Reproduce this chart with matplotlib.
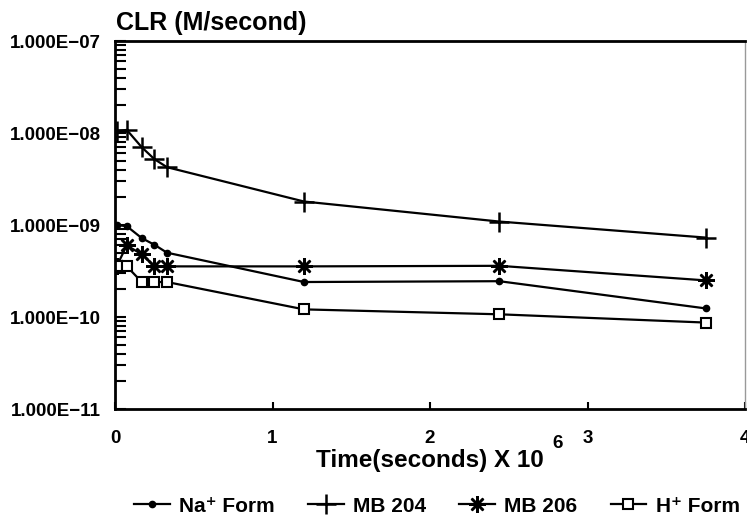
import matplotlib
matplotlib.use("Agg")
import matplotlib.pyplot as plt
from matplotlib.ticker import LogLocator, NullFormatter, FixedLocator, FixedFormatter

# ---- data (time in units of 10^6 s, CLR in M/second) ----
time = [0.01, 0.075, 0.17, 0.25, 0.33, 1.2, 2.44, 3.75]
na_form = [1.0e-9, 9.7e-10, 7.2e-10, 6.1e-10, 5.0e-10, 2.4e-10, 2.45e-10, 1.24e-10]
mb204 = [1.05e-8, 1.08e-8, 7.0e-9, 5.2e-9, 4.25e-9, 1.8e-9, 1.09e-9, 7.3e-10]
mb206 = [3.55e-10, 6.0e-10, 4.8e-10, 3.55e-10, 3.55e-10, 3.55e-10, 3.6e-10, 2.5e-10]
h_form = [3.55e-10, 3.55e-10, 2.4e-10, 2.4e-10, 2.4e-10, 1.21e-10, 1.07e-10, 8.7e-11]

series_labels = ["Na\u207a Form", "MB 204", "MB 206", "H\u207a Form"]
x_ticks = [0, 1, 2, 3, 4]
x_tick_labels = ["0", "1", "2", "3", "4"]
y_ticks = [1e-11, 1e-10, 1e-9, 1e-8, 1e-7]
y_tick_labels = ["1.000E\u221211", "1.000E\u221210", "1.000E\u221209", "1.000E\u221208", "1.000E\u221207"]

FONT = "Liberation Sans"
plt.rcParams["font.family"] = [FONT, "DejaVu Sans"]
plt.rcParams["font.weight"] = "bold"

fig = plt.figure(figsize=(7.47, 5.23), dpi=100)
ax = fig.add_axes([115 / 747, 1 - 409 / 523, 630 / 747, (409 - 41) / 523])

styles = [
    dict(marker="o", ms=4.5, mfc="black", mec="black"),
    dict(marker="+", ms=15, mew=1.8, mec="black"),
    dict(marker=(8, 2, 0), ms=12, mew=1.8, mec="black"),
    dict(marker="s", ms=7, mfc="white", mec="black", mew=1.5),
]
handles = []
for ys, st, lab in zip([na_form, mb204, mb206, h_form], styles, series_labels):
    (ln,) = ax.plot(time, ys, color="black", lw=1.6, label=lab, **st)
    handles.append(ln)

ax.set_yscale("log")
ax.set_ylim(1e-11, 1e-7)
ax.set_xlim(0, 4)

ax.yaxis.set_major_locator(FixedLocator(y_ticks))
ax.yaxis.set_major_formatter(FixedFormatter(y_tick_labels))
ax.yaxis.set_minor_locator(LogLocator(base=10, subs=range(2, 10)))
ax.yaxis.set_minor_formatter(NullFormatter())
ax.xaxis.set_major_locator(FixedLocator(x_ticks))
ax.xaxis.set_major_formatter(FixedFormatter(x_tick_labels))

ax.tick_params(axis="y", which="both", direction="in", length=8, width=1.5,
               pad=10, labelsize=13.5)
ax.tick_params(axis="x", which="both", direction="in", length=5, width=1.5,
               pad=15, labelsize=13.5)
for lbl in ax.get_xticklabels() + ax.get_yticklabels():
    lbl.set_fontweight("bold")

for side in ["left", "bottom", "top"]:
    ax.spines[side].set_linewidth(2)
ax.spines["right"].set_linewidth(1)
ax.spines["right"].set_color("#999999")

fig.text(116 / 747, 1 - 23 / 523, "CLR (M/second)", ha="left", va="center",
         fontsize=18, fontweight="bold")
fig.text(430 / 747, 1 - 460 / 523, "Time(seconds) X 10", ha="center", va="center",
         fontsize=17.5, fontweight="bold")
fig.text(552 / 747, 1 - 443 / 523, "6", ha="left", va="center",
         fontsize=13.5, fontweight="bold")

fig.legend(handles=handles, labels=series_labels, loc="center",
           bbox_to_anchor=(437 / 747, 1 - 506 / 523), ncol=4, frameon=False,
           handlelength=1.7, columnspacing=1.6, handletextpad=0.45,
           borderpad=0.1, borderaxespad=0.0,
           prop={"family": [FONT, "DejaVu Sans"], "weight": "bold", "size": 15})

fig.savefig("out.png", dpi=100)
